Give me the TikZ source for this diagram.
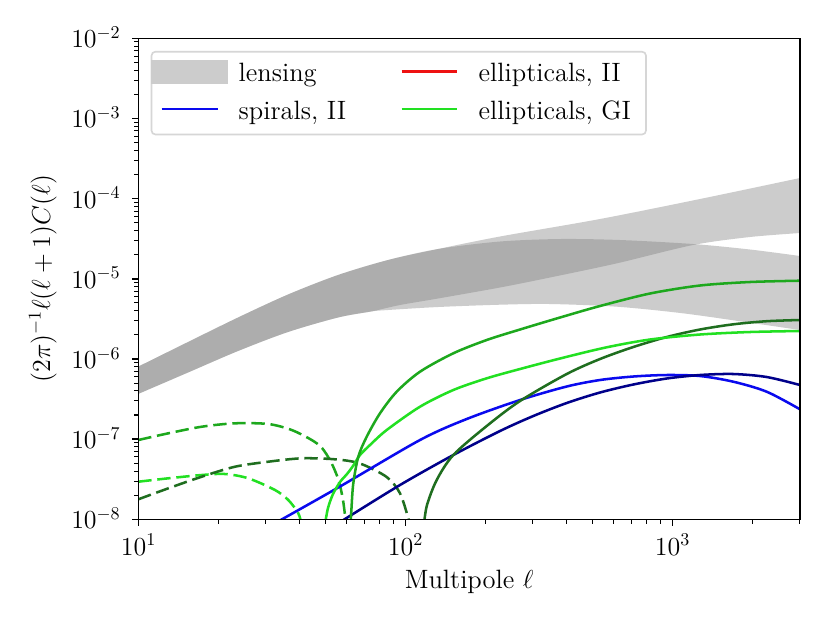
\documentclass[tikz,border=0pt]{standalone}
\definecolor{mgreen}{HTML}{1DA81D}
\definecolor{lgreen}{HTML}{22E022}
\definecolor{dgreen}{HTML}{1F6E1F}
\definecolor{cblue}{HTML}{0A0AEE}
\definecolor{cnavy}{HTML}{00008A}
\definecolor{cred}{HTML}{EE1111}
\definecolor{legedge}{HTML}{D6D6D6}
\begin{document}
\begin{tikzpicture}[x=0.5545pt,y=-0.5545pt,
  curve/.style={line width=1.4pt, line join=round},
  dashcurve/.style={curve, dash pattern=on 7.4pt off 3.2pt},
  band/.style={fill=black!50, fill opacity=0.4},
  lbl/.style={font=\fontsize{14.7}{17}\selectfont, inner sep=0pt},
  majtick/.style={line width=0.8pt},
  mintick/.style={line width=0.6pt}]
\useasboundingbox (0,0) rectangle (831,623);
\fill[white] (0,0) rectangle (831,623);
% ---------- data area ----------
\begin{scope}
\clip (138.5,38.3) rectangle (800,519.3);
% lensing band A (rising)
\fill[band] plot[smooth] coordinates {(138,366.7) (188,342) (238,317.5) (288,294.5) (338,275) (388,260) (438,249) (500,236.5) (600,219) (700,199) (800,178)}
  -- (805,178) -- (805,233)
  -- plot[smooth] coordinates {(800,233) (750,237) (693,245) (617,263.3) (550,277.5) (500,287.5) (438,298.5) (400,305) (371,311.5) (338,317.5) (288,332) (238,351) (188,372.5) (138,394)}
  -- (133,394) -- (133,366.7) -- cycle;
% lensing band B (flattening)
\fill[band] plot[smooth] coordinates {(138,366.7) (188,342) (238,317.5) (288,294.5) (338,275) (388,260) (438,249) (500,241.5) (560,239) (620,240) (693,244) (750,249.5) (800,256)}
  -- (805,256) -- (805,330)
  -- plot[smooth] coordinates {(800,330) (750,322.7) (683,313.3) (617,306.7) (550,304) (500,304.7) (438,307) (388,310) (371,311.5) (338,317.5) (288,332) (238,351) (188,372.5) (138,394)}
  -- (133,394) -- (133,366.7) -- cycle;
% dashed curves
\draw[dashcurve,mgreen] plot[smooth] coordinates {(138.3,440) (168.3,433.3) (201.7,426.7) (235,423.3) (268.3,424) (291.7,430) (311.7,440) (322,448) (331,462) (338.5,480) (343,500) (346,524)};
\draw[dashcurve,lgreen] plot[smooth] coordinates {(138.3,481.7) (168.3,478.3) (201.7,475) (225,474) (248.3,478.3) (275,490) (288.3,500) (298.3,513.3) (301.5,524)};
\draw[dashcurve,dgreen] plot[smooth] coordinates {(138.3,499.3) (168.3,488.3) (201.7,476.7) (235,466.7) (268.3,461.7) (301.7,458.3) (335,459.3) (360,463.5) (386.7,477) (400,493.3) (408.3,518.3) (409.5,524)};
% solid curves
\draw[curve,cblue] plot[smooth] coordinates {(278,521.5) (340,486.5) (420,440) (466.7,419) (520,400) (566.7,386.5) (600,380) (633.3,376.5) (666.7,375) (700,376) (733.3,381.7) (766.7,391.7) (800,409.3)};
\draw[curve,cnavy] plot[smooth] coordinates {(341,521.5) (400,485) (453.3,455) (500,431) (533.3,416) (566.7,403) (600,392.5) (633.3,384.5) (666.7,378.5) (700,375) (733.3,374) (766.7,377) (800,385)};
\draw[curve,dgreen] plot[smooth] coordinates {(424,524) (427,505) (436.7,480) (453.3,455) (486.7,426) (520,401) (566.7,374) (600,359) (633.3,347) (666.7,337) (700,329.5) (733.3,324.3) (766.7,321.2) (800,320)};
\draw[curve,lgreen] plot[smooth] coordinates {(325,524) (328,508) (333,494) (340,482) (347,474) (353,466) (360,455) (370,445) (386.7,430) (420,406.7) (453.3,390) (486.7,378.3) (520,369) (560,358.5) (605.7,347.5) (650,339.5) (700,334.5) (750,332) (800,331)};
\draw[curve,mgreen] plot[smooth] coordinates {(350.6,524) (351.5,508) (353.3,483.3) (358.3,456.7) (366.7,436.7) (380,413.3) (396.7,391.7) (420,371.7) (453.3,353.3) (486.7,340) (520,329.5) (560,317.5) (600,306) (650,293.5) (700,285.5) (750,282) (800,280.7)};
\end{scope}
% ---------- ticks ----------
\foreach \j in {0,...,6}{
  \pgfmathsetmacro\yy{519.3-80.17*\j}
  \pgfmathtruncatemacro\ex{\j-8}
  \draw[majtick] (138.5,\yy) -- ++(-7,0);
  \node[lbl,anchor=base east] (ytl\j) at (121,\yy+9.5) {$10^{\ex}$};
}
\foreach \j in {0,...,5}{
  \foreach \m in {2,...,9}{
    \pgfmathsetmacro\yy{519.3-80.17*(\j+log10(\m))}
    \draw[mintick] (138.5,\yy) -- ++(-4.5,0);
  }
}
\foreach \i in {0,1,2}{
  \pgfmathsetmacro\xx{138.5+267*\i}
  \pgfmathtruncatemacro\ex{\i+1}
  \draw[majtick] (\xx,519.3) -- ++(0,7);
  \node[lbl,anchor=base] (xtl\i) at (\xx,555) {$10^{\ex}$};
  \foreach \m in {2,...,9}{
    \pgfmathsetmacro\xm{138.5+267*(\i+log10(\m))}
    \pgfmathtruncatemacro\ok{\xm<800.6}
    \ifnum\ok=1 \draw[mintick] (\xm,519.3) -- ++(0,4.5);\fi
  }
}
\draw[line width=0.8pt] (138.5,38.3) rectangle (800,519.3);
% ---------- axis labels ----------
\node[lbl,anchor=base] (xlab) at (469.2,588) {Multipole $\ell$};
\node[lbl,rotate=90,anchor=base] (ylab) at (50,278.8) {$(2\pi)^{-1}\ell(\ell+1)C(\ell)$};
% ---------- legend ----------
\draw[legedge,line width=0.9pt,fill=white,rounded corners=2.2pt] (151.5,51.7) rectangle (646,134.5);
\fill[black!20] (150.7,60) rectangle (228.3,83.6);
\draw[curve,cblue] (161.5,109) -- (217.5,109);
\draw[curve,cred] (401.7,71.7) -- (457.3,71.7);
\draw[curve,lgreen] (401.7,109) -- (457.3,109);
\node[lbl,anchor=base west] (tlens) at (238.3,81.7) {lensing};
\node[lbl,anchor=base west] (tspir) at (238.3,119) {spirals, II};
\node[lbl,anchor=base west] (tellii) at (478.3,81.7) {ellipticals, II};
\node[lbl,anchor=base west] (tellgi) at (478.3,119) {ellipticals, GI};
\end{tikzpicture}
\end{document}
